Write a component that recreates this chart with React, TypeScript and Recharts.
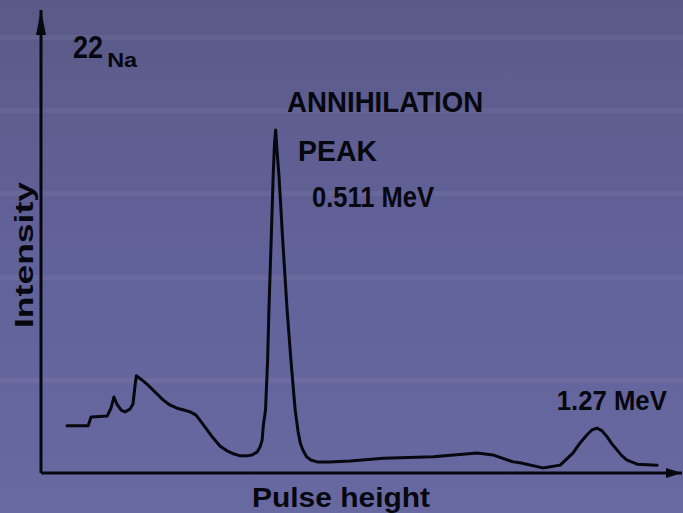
import React from 'react';
import { LineChart, Line, XAxis, YAxis, ReferenceDot } from 'recharts';

// 22Na gamma spectrum: pulse height (energy-calibrated, MeV) vs. relative intensity
const pulseHeightMeV = [
  0.018, 0.068, 0.075, 0.113, 0.122, 0.129, 0.136, 0.146, 0.155, 0.167,
  0.174, 0.179, 0.182, 0.195, 0.207, 0.226, 0.245, 0.261, 0.278, 0.294,
  0.309, 0.323, 0.332, 0.346, 0.363, 0.38, 0.396, 0.413, 0.427, 0.443,
  0.455, 0.467, 0.474, 0.479, 0.482, 0.487, 0.492, 0.495, 0.5, 0.505,
  0.508, 0.511, 0.514, 0.519, 0.528, 0.538, 0.547, 0.557, 0.564, 0.569,
  0.576, 0.584, 0.594, 0.609, 0.639, 0.687, 0.765, 0.883, 0.987, 1.024,
  1.072, 1.088, 1.142, 1.183, 1.213, 1.23, 1.246, 1.258, 1.27, 1.282,
  1.294, 1.305, 1.317, 1.329, 1.341, 1.365, 1.412,
];

const intensity = [
  10.2, 10.2, 12.1, 12.3, 14.0, 16.4, 14.9, 13.6, 13.2, 13.8,
  14.9, 19.0, 21.0, 20.1, 19.2, 17.5, 15.8, 14.7, 14.0, 13.6,
  13.2, 12.5, 11.4, 9.7, 7.6, 5.8, 4.8, 4.1, 3.7, 3.7,
  3.9, 4.5, 5.6, 7.1, 10.4, 13.6, 24.4, 35.2, 49.2, 63.9,
  70.8, 74.1, 69.8, 63.9, 49.7, 35.2, 24.4, 13.6, 8.9, 6.5,
  4.8, 3.5, 2.8, 2.4, 2.4, 2.6, 3.2, 3.5, 4.3, 3.9,
  2.4, 2.2, 1.1, 1.7, 4.3, 6.5, 8.2, 9.3, 9.7, 9.1,
  7.8, 6.3, 5.0, 3.7, 2.8, 1.9, 1.7,
];

const spectrum = pulseHeightMeV.map((e, i) => ({ e, counts: intensity[i] }));

const annotationTexts = ['22', 'Na', 'ANNIHILATION', 'PEAK', '0.511 MeV', '1.27 MeV'];

// anchor (data coordinates) and type settings for each annotation
const annotationLayout = [
  { e: 0.032, i: 89.6, size: 32, width: 30 },
  { e: 0.113, i: 87.7, size: 20, width: 30 },
  { e: 0.538, i: 78.0, size: 30, width: 196 },
  { e: 0.564, i: 67.4, size: 30, width: 79 },
  { e: 0.597, i: 57.5, size: 29, width: 122 },
  { e: 1.175, i: 13.6, size: 28, width: 110 },
];

const INK = '#07070f';
const FONT = '"Liberation Sans", Arial, sans-serif';

const textLabel = (text: string, size: number, width: number) => (props: any) => {
  const vb = props.viewBox || {};
  const x = vb.x ?? props.x;
  const y = vb.y ?? props.y;
  return (
    <text
      x={x}
      y={y}
      fill={INK}
      fontFamily={FONT}
      fontWeight="bold"
      fontSize={size}
      textLength={width}
      lengthAdjust="spacingAndGlyphs"
    >
      {text}
    </text>
  );
};

const xAxisLabel = (props: any) => {
  const vb = props.viewBox || {};
  return (
    <text
      x={vb.x + 211}
      y={vb.y + 34}
      fill={INK}
      fontFamily={FONT}
      fontWeight="bold"
      fontSize={28}
      textLength={178}
      lengthAdjust="spacingAndGlyphs"
    >
      Pulse height
    </text>
  );
};

const yAxisLabel = () => {
  const cx = 33;
  const cy = 255;
  return (
    <text
      x={cx}
      y={cy}
      transform={`rotate(-90, ${cx}, ${cy})`}
      textAnchor="middle"
      fill={INK}
      fontFamily={FONT}
      fontWeight="bold"
      fontSize={25}
      textLength={146}
      lengthAdjust="spacingAndGlyphs"
    >
      Intensity
    </text>
  );
};

const band = (top: number) =>
  `linear-gradient(to bottom, transparent ${top}px, rgba(255,255,255,0.045) ${top}px, rgba(255,255,255,0.045) ${top + 5}px, transparent ${top + 5}px)`;

const backdrop = [
  band(35),
  band(108),
  band(191),
  band(275),
  band(378),
  'linear-gradient(to bottom, #5a5a88 0%, #62629a 50%, #6969a1 100%)',
].join(', ');

export default function App() {
  return (
    <div
      style={{
        position: 'absolute',
        left: 0,
        top: 0,
        width: 683,
        height: 513,
        background: backdrop,
        overflow: 'hidden',
      }}
    >
      <LineChart
        width={683}
        height={513}
        data={spectrum}
        margin={{ top: 10, right: 1, bottom: 0, left: 0 }}
      >
        <defs>
          <marker
            id="arrowY"
            viewBox="0 0 25 10"
            refX={25}
            refY={5}
            markerWidth={25}
            markerHeight={10}
            markerUnits="userSpaceOnUse"
            orient="auto-start-reverse"
          >
            <path d="M0,0 L25,5 L0,10 z" fill={INK} />
          </marker>
          <marker
            id="arrowX"
            viewBox="0 0 16 10"
            refX={16}
            refY={5}
            markerWidth={16}
            markerHeight={10}
            markerUnits="userSpaceOnUse"
            orient="auto"
          >
            <path d="M0,0 L16,5 L0,10 z" fill={INK} />
          </marker>
        </defs>
        <XAxis
          type="number"
          dataKey="e"
          domain={[-0.0433, 1.4707]}
          allowDataOverflow
          tick={false}
          tickLine={false}
          height={40}
          axisLine={{ stroke: INK, strokeWidth: 3, markerEnd: 'url(#arrowX)' }}
          label={xAxisLabel}
        />
        <YAxis
          type="number"
          domain={[0, 100]}
          allowDataOverflow
          tick={false}
          tickLine={false}
          width={41}
          axisLine={{ stroke: INK, strokeWidth: 3, markerStart: 'url(#arrowY)' }}
          label={yAxisLabel}
        />
        <Line
          dataKey="counts"
          type="linear"
          stroke={INK}
          strokeWidth={3}
          strokeLinejoin="round"
          strokeLinecap="round"
          dot={false}
          activeDot={false}
          isAnimationActive={false}
        />
        {annotationTexts.map((t, k) => (
          <ReferenceDot
            key={t}
            x={annotationLayout[k].e}
            y={annotationLayout[k].i}
            r={0}
            fill="none"
            stroke="none"
            label={textLabel(t, annotationLayout[k].size, annotationLayout[k].width)}
          />
        ))}
      </LineChart>
    </div>
  );
}
